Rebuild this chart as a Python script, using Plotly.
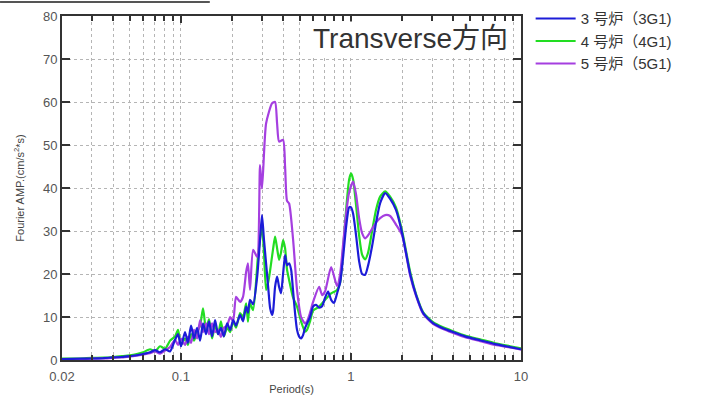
import math
import plotly.graph_objects as go

# ---------------- data ----------------
period_3G1 = [0.020, 0.0255, 0.030, 0.035, 0.040, 0.045, 0.050, 0.055, 0.060, 0.0659, 0.0705, 0.0754,
              0.0807, 0.0864, 0.0924, 0.0962, 0.1002, 0.1058, 0.110, 0.1148, 0.1195, 0.1245, 0.1297,
              0.135, 0.1406, 0.1464, 0.1525, 0.1589, 0.1655, 0.172, 0.179, 0.187, 0.195, 0.203, 0.211,
              0.223, 0.232, 0.242, 0.248, 0.255, 0.266, 0.281, 0.292, 0.300, 0.308, 0.317, 0.326, 0.335,
              0.344, 0.349, 0.358, 0.368, 0.378, 0.388, 0.399, 0.410, 0.421, 0.433, 0.445, 0.457, 0.469,
              0.482, 0.495, 0.509, 0.523, 0.537, 0.575, 0.599, 0.624, 0.650, 0.677, 0.705, 0.734, 0.765,
              0.796, 0.829, 0.864, 0.900, 0.937, 0.976, 1.002, 1.03, 1.072, 1.117, 1.163, 1.212, 1.262,
              1.332, 1.406, 1.485, 1.589, 1.70, 1.84, 2.0, 2.23, 2.42, 2.66, 3.04, 3.48, 3.99, 4.69,
              5.75, 7.05, 8.64, 10.0]
amp_3G1 = [0.2, 0.3, 0.35, 0.45, 0.6, 0.7, 0.9, 1.1, 1.4, 1.8, 2.3, 1.8,
           2.5, 2.0, 4.7, 6.0, 3.2, 6.5, 4.0, 8.0, 5.0, 7.5, 4.5,
           8.5, 6.0, 9.0, 5.5, 9.3, 6.0, 7.5, 5.5, 8.5, 7.0, 9.3, 8.0,
           10.5, 9.0, 12.4, 11.0, 14.0, 13.0, 19.4, 28.0, 33.7, 28.0, 22.5, 17.0, 12.0,
           10.5, 11.5, 17.0, 19.4, 17.0, 15.5, 20.0, 24.4, 22.0, 22.5, 21.0, 16.0, 11.0,
           7.0, 5.5, 5.0, 5.8, 7.4, 10.0, 12.4, 12.8, 12.2, 12.5, 14.5, 15.9, 14.0,
           13.3, 15.5, 18.0, 24.0, 31.0, 35.5, 35.5, 34.0, 29.0, 23.0, 20.0, 19.8, 22.0,
           26.5, 32.0, 36.5, 38.8, 37.5, 34.9, 29.5, 20.0, 15.0, 10.9, 8.6, 7.4, 6.5, 5.5,
           4.6, 3.7, 3.0, 2.5]

period_4G1 = [0.020, 0.0255, 0.030, 0.035, 0.040, 0.045, 0.050, 0.055, 0.060, 0.0659, 0.0705, 0.0754,
              0.0807, 0.0864, 0.0924, 0.0962, 0.1002, 0.1058, 0.110, 0.1148, 0.1195, 0.1245, 0.1297,
              0.135, 0.1406, 0.1464, 0.1525, 0.1589, 0.1655, 0.172, 0.179, 0.187, 0.195, 0.203, 0.211,
              0.223, 0.232, 0.242, 0.248, 0.255, 0.266, 0.284, 0.300, 0.308, 0.317, 0.326, 0.335,
              0.349, 0.358, 0.368, 0.378, 0.388, 0.399, 0.410, 0.421, 0.433, 0.457, 0.482, 0.509,
              0.537, 0.552, 0.575, 0.599, 0.650, 0.705, 0.765, 0.829, 0.864, 0.900, 0.937, 0.976,
              1.002, 1.03, 1.072, 1.117, 1.163, 1.212, 1.262, 1.332, 1.406, 1.485, 1.589, 1.70, 1.84,
              2.0, 2.23, 2.42, 2.66, 3.04, 3.48, 3.99, 4.69, 5.75, 7.05, 8.64, 10.0]
amp_4G1 = [0.3, 0.35, 0.5, 0.55, 0.7, 0.9, 1.1, 1.4, 1.8, 2.5, 2.0, 3.2,
           2.6, 4.5, 5.5, 7.0, 3.5, 5.0, 3.5, 6.0, 4.5, 6.5, 8.0,
           12.0, 7.0, 9.5, 5.0, 8.0, 6.0, 9.0, 5.5, 7.5, 6.5, 9.0, 7.5,
           10.9, 10.0, 13.2, 8.9, 13.2, 11.6, 24.0, 31.0, 25.0, 16.3, 18.0, 20.9,
           26.0, 28.7, 26.0, 23.3, 25.0, 27.9, 26.0, 21.0, 18.6, 14.5, 12.4, 9.0,
           6.6, 7.0, 9.0, 11.5, 12.4, 14.0, 15.5, 16.3, 18.0, 26.0, 35.0, 42.0,
           43.4, 42.0, 36.0, 29.0, 24.5, 23.4, 25.0, 30.0, 35.0, 38.0, 39.2, 38.0, 35.5,
           30.0, 20.5, 15.2, 11.1, 8.8, 7.6, 6.7, 5.7, 4.8, 3.9, 3.2, 2.7]

period_5G1 = [0.020, 0.0255, 0.030, 0.035, 0.040, 0.045, 0.050, 0.055, 0.060, 0.0659, 0.0705, 0.0754,
              0.0807, 0.0864, 0.0924, 0.0962, 0.1002, 0.1058, 0.110, 0.1148, 0.1195, 0.1245, 0.1297,
              0.135, 0.1406, 0.1464, 0.1525, 0.1589, 0.1655, 0.172, 0.179, 0.187, 0.195, 0.203, 0.211,
              0.223, 0.232, 0.242, 0.248, 0.255, 0.266, 0.281, 0.292, 0.300, 0.317, 0.344, 0.358,
              0.368, 0.378, 0.399, 0.410, 0.421, 0.433, 0.457, 0.482, 0.509, 0.537, 0.552, 0.575,
              0.599, 0.650, 0.677, 0.705, 0.765, 0.829, 0.864, 0.900, 0.937, 0.976, 1.03, 1.072,
              1.117, 1.163, 1.212, 1.262, 1.332, 1.406, 1.485, 1.589, 1.70, 1.84,
              2.0, 2.23, 2.42, 2.66, 3.04, 3.48, 3.99, 4.69, 5.75, 7.05, 8.64, 10.0]
amp_5G1 = [0.15, 0.2, 0.3, 0.35, 0.5, 0.6, 0.8, 1.0, 1.3, 1.6, 2.0, 1.5,
           2.2, 3.0, 4.7, 3.5, 5.0, 3.5, 5.4, 4.0, 7.0, 5.0, 9.3,
           6.5, 8.5, 6.0, 8.5, 6.5, 7.0, 5.4, 7.5, 8.0, 10.0, 9.0, 14.7,
           13.5, 14.7, 20.5, 22.5, 16.3, 25.6, 24.0, 45.3, 39.9, 55.0, 59.7, 60.0,
           55.0, 50.8, 51.2, 45.0, 37.0, 36.4, 28.0, 16.3, 10.0, 8.5, 9.0, 11.0,
           13.5, 17.0, 15.1, 16.0, 21.6, 17.2, 20.0, 27.0, 34.0, 39.0, 41.5, 38.5,
           33.0, 29.5, 28.3, 29.0, 30.5, 32.0, 33.0, 33.7, 33.5, 31.5,
           29.0, 19.6, 14.8, 10.7, 8.4, 7.2, 6.3, 5.3, 4.4, 3.5, 2.9, 2.4]

series_names = ["3 号炉（3G1)", "4 号炉（4G1)", "5 号炉（5G1)"]
series_colors = ["#1c1cd8", "#22dd22", "#a53fe0"]

major_ticks = [0.02, 0.1, 1, 10]
major_labels = ["0.02", "0.1", "1", "10"]
minor_ticks = [0.03, 0.04, 0.05, 0.06, 0.07, 0.08, 0.09,
               0.2, 0.3, 0.4, 0.5, 0.6, 0.7, 0.8, 0.9,
               2, 3, 4, 5, 6, 7, 8, 9]
y_ticks = [0, 10, 20, 30, 40, 50, 60, 70, 80]

title_text = "Transverse方向"
x_title = "Period(s)"
y_title = "Fourier AMP.(cm/s<sup>2</sup>*s)"

FONT = "Liberation Sans, Arial, Noto Sans CJK JP, sans-serif"

# ---------------- figure ----------------
fig = go.Figure()
data = [(period_3G1, amp_3G1), (period_4G1, amp_4G1), (period_5G1, amp_5G1)]
draw_order = [1, 2, 0]
for i in draw_order:
    px, py = data[i]
    fig.add_trace(go.Scatter(
        x=px, y=py, mode="lines", name=series_names[i],
        line=dict(color=series_colors[i], width=2.2, shape="spline", smoothing=0.6),
        legendrank=i + 1,
    ))

axis_common = dict(
    showline=True, linewidth=2, linecolor="#333333", mirror="allticks",
    ticks="inside", tickcolor="#333333", tickwidth=2,
    showgrid=True, gridcolor="#b5b5b5", griddash="dot", gridwidth=1,
    zeroline=False, automargin=False,
    tickfont=dict(family=FONT, size=13, color="#555555"),
)

fig.update_xaxes(
    type="log", range=[math.log10(0.02), math.log10(10)],
    tickmode="array", tickvals=major_ticks, ticktext=major_labels, ticklen=7,
    ticklabelstandoff=3,
    minor=dict(tickmode="array", tickvals=minor_ticks, ticks="inside", ticklen=5,
               tickcolor="#333333", showgrid=True, gridcolor="#b5b5b5", griddash="dot"),
    title=dict(text=x_title, font=dict(family=FONT, size=11, color="#444444"), standoff=4),
    **axis_common,
)
fig.update_yaxes(
    range=[0, 80], tickmode="array", tickvals=y_ticks, ticklen=8,
    title=dict(text=y_title, font=dict(family=FONT, size=11, color="#444444"), standoff=16),
    **axis_common,
)

fig.add_annotation(
    x=0.977, y=0.985, xref="paper", yref="paper", xanchor="right", yanchor="top",
    text=title_text, showarrow=False, bgcolor="white",
    font=dict(family=FONT, size=28, color="#333333"),
)

fig.add_shape(type="line", xref="paper", yref="paper",
              x0=-0.135, x1=0.322, y0=1.041, y1=1.041,
              line=dict(color="#555555", width=2))

fig.update_layout(
    width=719, height=395,
    margin=dict(l=62, r=198, t=16, b=35, autoexpand=False),
    paper_bgcolor="white", plot_bgcolor="white",
    showlegend=True,
    legend=dict(x=1.021, y=1.04, xanchor="left", yanchor="top",
                font=dict(family=FONT, size=15, color="#333333"),
                itemwidth=40, tracegroupgap=0, bgcolor="rgba(0,0,0,0)"),
)

fig.write_html("out.html", config={"displayModeBar": False},
               post_script="document.body.style.margin='0';document.body.style.padding='0';")
